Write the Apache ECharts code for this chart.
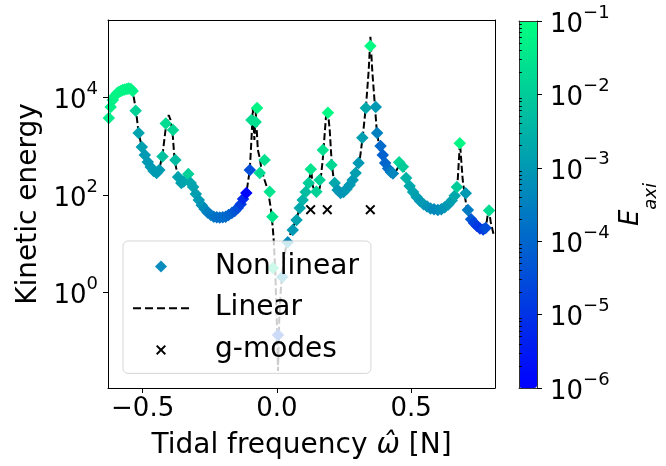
<!DOCTYPE html>
<html><head><meta charset="utf-8">
<script src="https://cdn.jsdelivr.net/npm/echarts@6/dist/echarts.min.js"></script>
<style>html,body{margin:0;padding:0;background:#fff}#c{width:666px;height:466px}</style>
</head><body><div id="c"></div>
<script>
// ---- data ----
const linearX = [-0.628,-0.619,-0.604,-0.585,-0.567,-0.548,-0.537,-0.526,-0.515,-0.503,-0.489,-0.474,-0.459,-0.448,-0.437,-0.426,-0.414,-0.403,-0.396,-0.388,-0.381,-0.370,-0.358,-0.343,-0.332,-0.321,-0.310,-0.299,-0.287,-0.269,-0.250,-0.232,-0.213,-0.194,-0.176,-0.157,-0.139,-0.124,-0.112,-0.101,-0.094,-0.090,-0.084,-0.079,-0.071,-0.064,-0.057,-0.046,-0.034,-0.0235,-0.016,-0.012,-0.0063,-0.0007,0.0041,0.0086,0.0142,0.0216,0.0328,0.0440,0.0589,0.0738,0.0850,0.0961,0.1073,0.1185,0.1277,0.1333,0.1463,0.1594,0.1705,0.1836,0.1891,0.1966,0.2040,0.2152,0.2338,0.2524,0.2710,0.2897,0.3083,0.3195,0.3325,0.3418,0.3481,0.3548,0.3641,0.3716,0.3827,0.3939,0.4051,0.4200,0.4311,0.4460,0.4572,0.4684,0.4833,0.5019,0.5205,0.5391,0.5577,0.5763,0.5987,0.6173,0.6359,0.6508,0.6657,0.6732,0.6787,0.6817,0.6862,0.6918,0.6992,0.7078,0.7215,0.7364,0.7513,0.7662,0.7774,0.7848,0.7897,0.7960,0.8072];
const linearY = [3430,6040,10100,12800,14400,14400,13100,6040,1860,961,600,392,310,282,357,659,2350,4340,3430,1690,520,257,176,185,245,185,127,91,65.4,47,38.9,35.4,34.6,35.4,38.9,44.9,56.9,79,127,325,1690,6040,1340,5000,834,572,325,203,127,56.9,23.2,12.0,2.92,0.276,0.0249,0.276,1.13,2.92,8.2,13.2,21.1,33.8,54.2,79,127,185,325,153,100,139,520,4700,5500,2140,452,139,105,110,176,245,520,1560,7540,36200,174000,36200,7540,2140,834,520,357,282,257,325,431,357,203,127,91,72,59.6,51.7,49.3,51.7,62.4,75,105,203,659,1160,520,203,100,49.3,32.2,25.5,21.1,19.2,21.1,38.9,49.3,28.0,15.2];

const nonlinX = [-0.626,-0.619,-0.611,-0.604,-0.596,-0.589,-0.581,-0.574,-0.567,-0.559,-0.552,-0.544,-0.537,-0.526,-0.515,-0.503,-0.492,-0.481,-0.470,-0.459,-0.448,-0.438,-0.426,-0.414,-0.387,-0.378,-0.368,-0.356,-0.347,-0.330,-0.321,-0.312,-0.302,-0.291,-0.280,-0.269,-0.258,-0.246,-0.235,-0.224,-0.213,-0.202,-0.191,-0.180,-0.168,-0.157,-0.146,-0.135,-0.126,-0.114,-0.101,-0.095,-0.079,-0.074,-0.064,-0.046,-0.027,-0.017,-0.015,0.0041,0.020,0.040,0.059,0.073,0.085,0.096,0.107,0.118,0.126,0.147,0.159,0.171,0.190,0.203,0.215,0.226,0.237,0.248,0.259,0.271,0.282,0.293,0.304,0.318,0.331,0.348,0.368,0.373,0.386,0.394,0.403,0.414,0.424,0.432,0.455,0.469,0.481,0.494,0.507,0.520,0.533,0.546,0.559,0.572,0.585,0.599,0.612,0.625,0.638,0.651,0.662,0.670,0.681,0.703,0.711,0.723,0.734,0.745,0.756,0.768,0.777,0.790];
const nonlinY = [3770,6300,8800,10600,12000,12800,13500,14100,14400,14800,15100,14800,13400,5300,1860,961,659,473,374,310,282,325,612,2900,2140,520,234,176,190,270,176,146,105,79,62,51.7,44,38.9,36,35,34.6,35,36,38.9,42.8,47,54,65,83,110,325,3430,3120,6040,282,520,117,36,3.2,0.136,2.1,10.8,19.2,30.7,54.2,79,115,176,336,117,203,834,4800,411,176,127,110,115,132,160,203,282,452,1490,6040,112000,6300,1860,1007,659,452,350,296,276,470,380,223,153,115,91,75,65,58,53,51,49.3,51,56,64,77,96,146,1140,108,49.3,32,26.6,23.2,20.6,19.7,21,48];
const nonlinE = [0.04,0.05,0.05,0.056,0.06,0.06,0.063,0.063,0.063,0.063,0.06,0.06,0.056,0.0126,0.0016,0.0013,0.0011,0.001,0.001,0.001,0.001,0.0011,0.0063,0.02,0.016,0.005,0.0016,0.0013,0.0016,0.0126,0.002,0.0016,0.0013,0.001,7.9e-4,5e-4,3.2e-4,2.5e-4,2e-4,1.6e-4,1.4e-4,1.3e-4,1.26e-4,1e-4,7.9e-5,5e-5,3.2e-5,1.6e-5,6.3e-6,1.3e-6,3.2e-5,0.02,0.025,0.063,0.02,0.025,0.0316,0.0316,0.025,3e-5,5e-4,5e-4,0.001,0.0016,0.002,0.0032,0.005,0.01,0.0316,0.0126,0.0126,0.025,0.079,0.016,0.002,0.001,7.9e-4,7.9e-4,0.001,0.001,0.001,0.0013,0.001,0.0013,0.002,0.079,0.001,3.2e-4,1.26e-4,7.9e-5,1e-4,1.26e-4,2.5e-4,4e-4,0.016,0.01,0.0032,0.002,0.0016,0.0013,0.001,0.001,7.9e-4,6.3e-4,5e-4,5e-4,6.3e-4,7.9e-4,0.001,0.0013,0.002,0.01,0.063,0.001,2.5e-4,5e-5,2e-5,1.26e-5,1e-5,1.6e-5,3.2e-5,0.02];

const gmodeX = [0.1255, 0.1876, 0.3477];
const gmodeY = [50, 50, 50];

const xTicks = [-0.5, 0, 0.5];
const yTicks = [1, 100, 10000];
const cbTicks = [1e-6, 1e-5, 1e-4, 1e-3, 1e-2, 1e-1];
const cbMinor = [2e-6,3e-6,4e-6,5e-6,6e-6,7e-6,8e-6,9e-6,2e-5,3e-5,4e-5,5e-5,6e-5,7e-5,8e-5,9e-5,2e-4,3e-4,4e-4,5e-4,6e-4,7e-4,8e-4,9e-4,2e-3,3e-3,4e-3,5e-3,6e-3,7e-3,8e-3,9e-3,2e-2,3e-2,4e-2,5e-2,6e-2,7e-2,8e-2,9e-2];

// ---- chart ----
const FONT = 'DejaVu Sans';
const xMin = -0.629, xMax = 0.812, yMin = 0.0112, yMax = 3.82e5;
const XPATH = 'path://M1.4,0L5,3.6L8.6,0L10,1.4L6.4,5L10,8.6L8.6,10L5,6.4L1.4,10L0,8.6L3.6,5L0,1.4Z';
// legend icons drawn in a 56x12 box (corner points fix the box)
const BOX = 'M0,0L0,0M56,12L56,12';
const ICON_DIAMOND = 'path://' + BOX + 'M28,-0.5L34.5,6L28,12.5L21.5,6Z';
const ICON_DASH = 'path://' + BOX + 'M0,5L8,5L8,7L0,7ZM12,5L20,5L20,7L12,7ZM24,5L32,5L32,7L24,7ZM36,5L44,5L44,7L36,7ZM48,5L56,5L56,7L48,7Z';
const ICON_X = 'path://' + BOX + 'M24.4,1L28,4.6L31.6,1L33,2.4L29.4,6L33,9.6L31.6,11L28,7.4L24.4,11L23,9.6L26.6,6L23,2.4Z';

function powLabel(v) {
  const e = Math.round(Math.log10(v));
  return '{b|10}{s|' + (e < 0 ? '\u2212' : '') + Math.abs(e) + '}';
}
function xLabel(v) {
  return (v < 0 ? '\u2212' : '') + Math.abs(v).toFixed(1);
}
const richPow = {
  b: {fontSize: 26, lineHeight: 34, verticalAlign: 'bottom', fontFamily: FONT, color: '#000'},
  s: {fontSize: 18, lineHeight: 18, verticalAlign: 'top', fontFamily: FONT, color: '#000'}
};
const blackLine = {show: true, onZero: false, lineStyle: {color: '#000', width: 1}};
const cbLine = {show: true, onZero: false, lineStyle: {color: '#333', width: 1}};
const off = {show: false};

const nonlinData = nonlinX.map((x, i) => [x, nonlinY[i], Math.log10(nonlinE[i])]);
const linearData = linearX.map((x, i) => [x, linearY[i]]);
const gmodeData = gmodeX.map((x, i) => [x, gmodeY[i]]);

const chart = echarts.init(document.getElementById('c'), null, {renderer: 'canvas'});
chart.setOption({
  animation: false,
  backgroundColor: '#fff',
  grid: [
    {left: 108, top: 20, right: 171, bottom: 78},
    {left: 519, top: 21, width: 18, height: 367}
  ],
  xAxis: [
    {gridIndex: 0, type: 'value', min: xMin, max: xMax, position: 'bottom', z: 10,
     axisLine: blackLine,
     axisTick: {show: true, customValues: xTicks, length: 5, lineStyle: {color: '#000', width: 1}},
     axisLabel: {customValues: xTicks, formatter: xLabel, fontSize: 26, fontFamily: FONT, color: '#000', margin: 8},
     splitLine: off,
     name: '{t|Tidal frequency }{w|\u03c9\u0302}{t| [N]}', nameLocation: 'middle', nameGap: 44,
     nameTextStyle: {fontSize: 28, fontFamily: FONT, color: '#000',
       rich: {t: {fontSize: 28, fontFamily: FONT, color: '#000'}, w: {fontSize: 28, fontFamily: FONT, fontStyle: 'italic', color: '#000'}}}
    },
    {gridIndex: 0, type: 'value', min: xMin, max: xMax, position: 'top', z: 10,
     axisLine: blackLine, axisTick: off, axisLabel: off, splitLine: off},
    {gridIndex: 1, type: 'value', min: 0, max: 1, position: 'bottom', z: 10,
     axisLine: cbLine, axisTick: off, axisLabel: off, splitLine: off},
    {gridIndex: 1, type: 'value', min: 0, max: 1, position: 'top', z: 10,
     axisLine: cbLine, axisTick: off, axisLabel: off, splitLine: off}
  ],
  yAxis: [
    {gridIndex: 0, type: 'log', min: yMin, max: yMax, position: 'left', z: 10,
     axisLine: blackLine,
     axisTick: {show: true, customValues: yTicks, length: 5, lineStyle: {color: '#000', width: 1}},
     axisLabel: {customValues: yTicks, formatter: powLabel, rich: richPow, fontFamily: FONT, color: '#000', margin: 10},
     splitLine: off, minorTick: off,
     name: 'Kinetic energy', nameLocation: 'middle', nameGap: 62,
     nameTextStyle: {fontSize: 28, fontFamily: FONT, color: '#000'}
    },
    {gridIndex: 0, type: 'log', min: yMin, max: yMax, position: 'right', z: 10,
     axisLine: blackLine, axisTick: off, axisLabel: off, splitLine: off},
    {gridIndex: 1, type: 'log', min: 1e-6, max: 1e-1, position: 'left', z: 10,
     axisLine: cbLine, axisTick: off, axisLabel: off, splitLine: off},
    {gridIndex: 1, type: 'log', min: 1e-6, max: 1e-1, position: 'right', z: 10,
     axisLine: cbLine,
     axisTick: {show: true, customValues: cbTicks, length: 5, lineStyle: {color: '#000', width: 1}},
     axisLabel: {customValues: cbTicks, formatter: powLabel, rich: richPow, fontFamily: FONT, color: '#000', margin: 13},
     splitLine: off,
     name: '{e|E}{s|axi}', nameLocation: 'middle', nameGap: 81,
     nameTextStyle: {fontFamily: FONT, color: '#000',
       rich: {e: {fontSize: 26, fontStyle: 'italic', lineHeight: 42, verticalAlign: 'top', fontFamily: FONT, color: '#000'},
              s: {fontSize: 18, fontStyle: 'italic', lineHeight: 18, verticalAlign: 'bottom', fontFamily: FONT, color: '#000'}}}
    },
    {gridIndex: 1, type: 'log', min: 1e-6, max: 1e-1, position: 'right', z: 10,
     axisLine: off,
     axisTick: {show: true, customValues: cbMinor, length: 2.8, lineStyle: {color: '#000', width: 1}},
     axisLabel: off, splitLine: off}
  ],
  visualMap: {
    type: 'continuous', seriesIndex: 0, dimension: 2, min: -6, max: -1,
    inRange: {color: ['#0000ff', '#00ff80']},
    left: 519, top: 21, itemWidth: 18, itemHeight: 367, padding: 0,
    calculable: false, showLabel: false, text: null, hoverLink: false, z: 1
  },
  legend: {
    orient: 'vertical', left: 123, top: 241, padding: [10.5, 12, 8.5, 10],
    itemGap: 11.7, itemWidth: 56, itemHeight: 12, z: 6, selectedMode: false,
    backgroundColor: 'rgba(255,255,255,0.8)', borderColor: 'rgba(204,204,204,0.8)', borderWidth: 1, borderRadius: 5,
    textStyle: {fontSize: 28, fontFamily: FONT, color: '#000', lineHeight: 30, padding: [0, 0, 0, 21]},
    data: [
      {name: 'Non linear', icon: ICON_DIAMOND, itemStyle: {color: '#0a8cbf', borderWidth: 0}},
      {name: 'Linear', icon: ICON_DASH, itemStyle: {color: '#000', borderWidth: 0}},
      {name: 'g-modes', icon: ICON_X, itemStyle: {color: '#000', borderWidth: 0}}
    ]
  },
  series: [
    {name: 'Non linear', type: 'scatter', xAxisIndex: 0, yAxisIndex: 0, data: nonlinData,
     symbol: 'diamond', symbolSize: 12.5, itemStyle: {opacity: 1, color: '#0a8cbf'}, emphasis: {disabled: true}, z: 2},
    {name: 'Linear', type: 'line', xAxisIndex: 0, yAxisIndex: 0, data: linearData,
     symbol: 'none', lineStyle: {color: '#000', width: 2, type: [7, 3]}, itemStyle: {color: '#000'}, emphasis: {disabled: true}, z: 2},
    {name: 'g-modes', type: 'scatter', xAxisIndex: 0, yAxisIndex: 0, data: gmodeData,
     symbol: XPATH, symbolSize: 10, itemStyle: {opacity: 1, color: '#000'}, emphasis: {disabled: true}, z: 2}
  ]
});
</script>
</body></html>
